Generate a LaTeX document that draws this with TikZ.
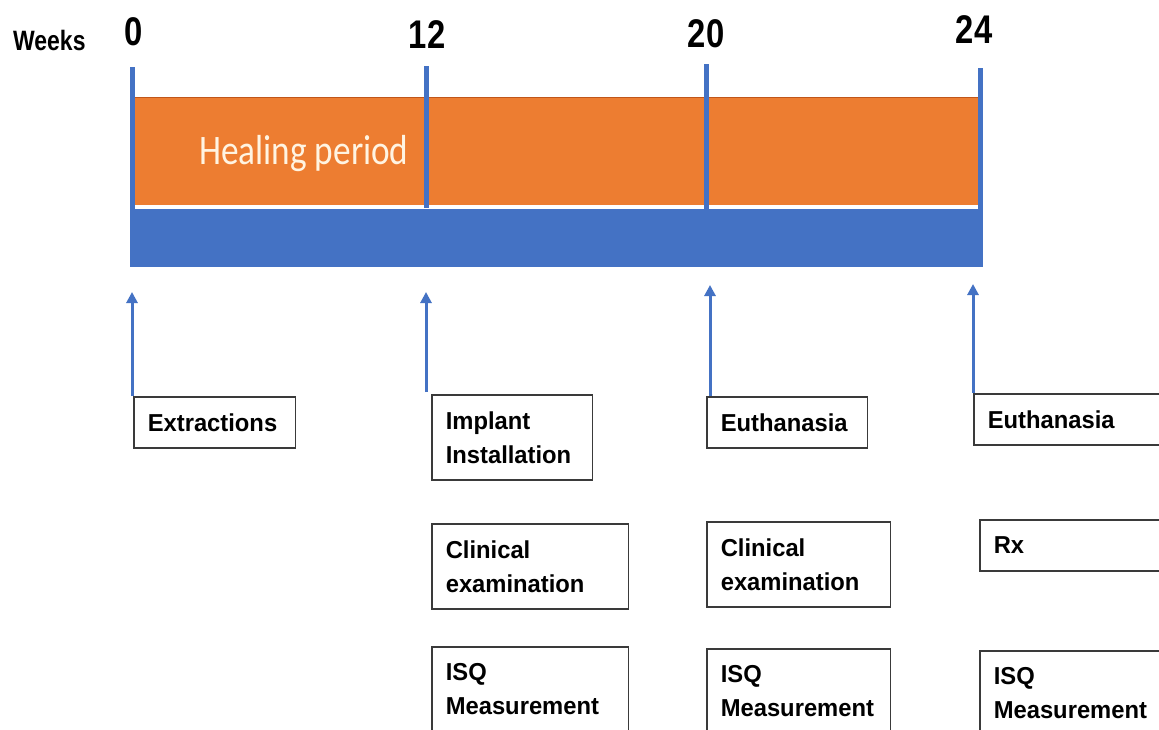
\documentclass[tikz,border=0pt]{standalone}
\usepackage{fontspec}
\setmainfont{Liberation Sans}
\newfontfamily\boxfont{Liberation Sans}[FakeStretch=0.97]
\newfontfamily\numfont{Liberation Sans}[FakeStretch=0.82]
\newfontfamily\healfont{Carlito}[FakeStretch=0.84]
\usetikzlibrary{arrows.meta}
\definecolor{obar}{HTML}{ED7D31}
\definecolor{obord}{HTML}{C0561A}
\definecolor{bbar}{HTML}{4472C4}
\definecolor{boxline}{HTML}{3A3A3A}
\definecolor{healtxt}{HTML}{FFF4E2}
\tikzset{
  numlbl/.style={inner sep=0pt, anchor=base, font=\numfont\bfseries\fontsize{40}{40}\selectfont},
  evbox/.style={draw=boxline, line width=1.6pt, fill=white, anchor=north west,
    inner xsep=14pt, inner ysep=0pt, align=left,
    font=\boxfont\bfseries\fontsize{24.5}{34}\selectfont},
  arr/.style={draw=bbar, line width=3pt, -{Triangle[length=11pt,width=11pt]}},
  tick/.style={fill=bbar, draw=none}
}
\begin{document}
\begin{tikzpicture}[x=1pt,y=-1pt]
\useasboundingbox[fill=white] (0,0) rectangle (1159,729);

% bar
\fill[bbar] (130,209) rectangle (982,267);
\fill[obar] (135,97) rectangle (978,205);
\draw[obord, line width=1.2pt] (135,97.5) -- (978,97.5);
% ticks
\fill[tick] (129.5,67) rectangle (134.5,267);
\fill[tick] (423.5,66) rectangle (428.5,208);
\fill[tick] (703.5,64) rectangle (708.5,209);
\fill[tick] (977.5,68) rectangle (982.5,267);

% labels
\node[inner sep=0pt, anchor=base west, font=\numfont\bfseries\fontsize{28}{28}\selectfont] (weeks) at (13,50) {Weeks};
\node[numlbl] (w0) at (134,45) {0};
\node[numlbl] (w12) at (427,48) {12};
\node[numlbl] (w20) at (706,47) {20};
\node[numlbl] (w24) at (974,43) {24};
\node[inner sep=0pt, anchor=base west, text=healtxt, font=\healfont\fontsize{42}{42}\selectfont] (heal) at (199,164) {Healing period};

% boxes
\node[evbox, text width=133.5pt, minimum height=51pt] (ext) at (133,396) {Extractions};
\node[evbox, text width=132.5pt, minimum height=85pt] (imp) at (431,394) {Implant\\Installation};
\node[evbox, text width=168.5pt, minimum height=85pt] (cl12) at (431,523) {Clinical\\examination};
\node[evbox, text width=168.5pt, minimum height=85pt] (isq12) at (431,646) {ISQ\\Measurement};

\node[evbox, text width=132.5pt, minimum height=51pt] (eu20) at (706,396) {Euthanasia};
\node[evbox, text width=155.5pt, minimum height=85pt] (cl20) at (706,521) {Clinical\\examination};
\node[evbox, text width=155.5pt, minimum height=85pt] (isq20) at (706,648) {ISQ\\Measurement};

\node[evbox, text width=170.5pt, minimum height=51pt] (eu24) at (973,393) {Euthanasia};
\node[evbox, text width=170.5pt, minimum height=51pt] (rx24) at (979,519) {Rx};
\node[evbox, text width=170.5pt, minimum height=85pt] (isq24) at (979,650) {ISQ\\Measurement};

% arrow tips
\coordinate (t0) at (132,292);
\coordinate (t12) at (426,292);
\coordinate (t20) at (710,285);
\coordinate (t24) at (973,284);

\draw[arr] (ext.north west -| t0) -- (t0);
\draw[arr] ([yshift=2pt]imp.north west -| t12) -- (t12);
\draw[arr] (eu20.north west -| t20) -- (t20);
\draw[arr] (eu24.north west -| t24) -- (t24);
\end{tikzpicture}
\end{document}
